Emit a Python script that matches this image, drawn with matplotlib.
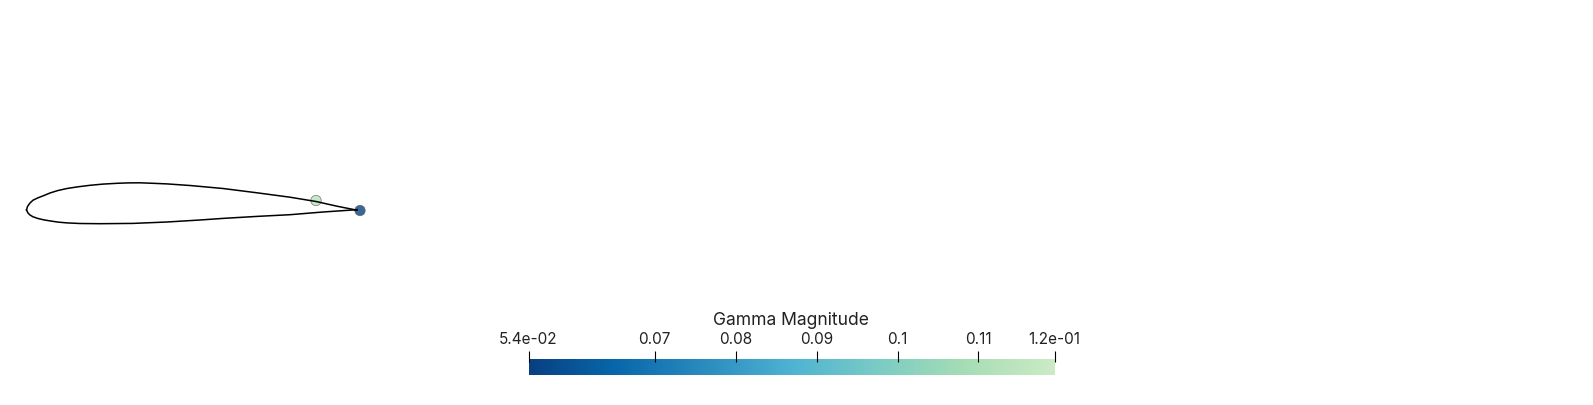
#!/usr/bin/env python3
"""Airfoil outline with gamma points and a horizontal colour bar below it."""
import matplotlib
matplotlib.use("Agg")
import matplotlib.pyplot as plt
from matplotlib.colors import LinearSegmentedColormap
import numpy as np

plt.rcParams["font.family"] = "Inter"

W, H = 1593, 406

# outline, in image pixels
upper_x = [26.5, 27.5, 30, 33, 38, 44, 50, 58, 67, 78, 90, 103, 117, 128, 140, 153, 167, 190, 223, 257, 290, 316, 337, 357]
upper_y = [211, 207.5, 204, 201.2, 198.8, 196.5, 194, 191.5, 189.5, 187.8, 186.3, 185.1, 184.3, 183.9, 183.8, 184.3, 184.9, 186.5, 189.5, 193.8, 198.2, 202.5, 207.2, 211.2]
lower_x = [26.5, 28, 30, 33, 38, 44, 50, 58, 67, 80, 100, 133, 167, 200, 223, 257, 290, 323, 357]
lower_y = [211, 214, 216, 217.8, 219.5, 220.9, 221.9, 223.1, 223.9, 224.5, 224.7, 224.4, 223, 221, 219.4, 217.4, 215.7, 213, 210.7]

# gamma points on the foil
point_x = [316, 360]
point_y = [201.5, 211.5]
point_gamma = [0.113, 0.0544]

# colour bar
cbar_title = "Gamma Magnitude"
cbar_min = 0.0544
cbar_max = 0.1194
cbar_ticks = [0.0544, 0.07, 0.08, 0.09, 0.1, 0.11, 0.1194]
cbar_labels = ["5.4e-02", "0.07", "0.08", "0.09", "0.1", "0.11", "1.2e-01"]
cmap_colors = ["#084081", "#0868ac", "#2b8cbe", "#4eb3d3", "#7bccc4", "#a8ddb5", "#ccebc5"]

cmap = LinearSegmentedColormap.from_list("gnbu_part", cmap_colors)

fig = plt.figure(figsize=(W / 100, H / 100), dpi=100)

# foil axes fills the whole figure, in image pixels
ax = fig.add_axes([0, 0, 1, 1])
ax.set_xlim(0, W)
ax.set_ylim(H, 0)
ax.axis("off")
ax.plot(upper_x, upper_y, color="black", lw=1.1, zorder=3)
ax.plot(lower_x, lower_y, color="black", lw=1.1, zorder=3)
ax.scatter(point_x, point_y, c=point_gamma, cmap=cmap, vmin=cbar_min, vmax=cbar_max,
           s=56, alpha=0.8, edgecolor="#555555", linewidth=0.5, zorder=2)

# colour bar: 528.5..1054.5 px wide, 360..376 px tall
x0, x1 = 528.5, 1054.5
ax_bar = fig.add_axes([x0 / W, 1 - 376 / H, (x1 - x0) / W, 16 / H])
grad = np.linspace(cbar_min, cbar_max, 512).reshape(1, -1)
ax_bar.imshow(grad, aspect="auto", cmap=cmap, vmin=cbar_min, vmax=cbar_max,
              extent=(cbar_min, cbar_max, 0, 1))
ax_bar.axis("off")

# ticks run from inside the bar up: separate zero-height axes at y=363
ax_tick = fig.add_axes([x0 / W, 1 - 363 / H, (x1 - x0) / W, 0.0001], zorder=5)
ax_tick.patch.set_alpha(0)
for s in ax_tick.spines.values():
    s.set_visible(False)
ax_tick.set_xlim(cbar_min, cbar_max)
ax_tick.set_yticks([])
ax_tick.xaxis.tick_top()
ax_tick.set_xticks(cbar_ticks)
ax_tick.set_xticklabels(cbar_labels, fontsize=11, color="#222222")
ax_tick.tick_params(axis="x", direction="out", length=7.9, width=0.8, color="black", pad=3.5)

fig.text(791 / W, 1 - 325 / H, cbar_title, ha="center", va="baseline", fontsize=12.6,
         color="#222222")

fig.savefig("out.png", dpi=100)
